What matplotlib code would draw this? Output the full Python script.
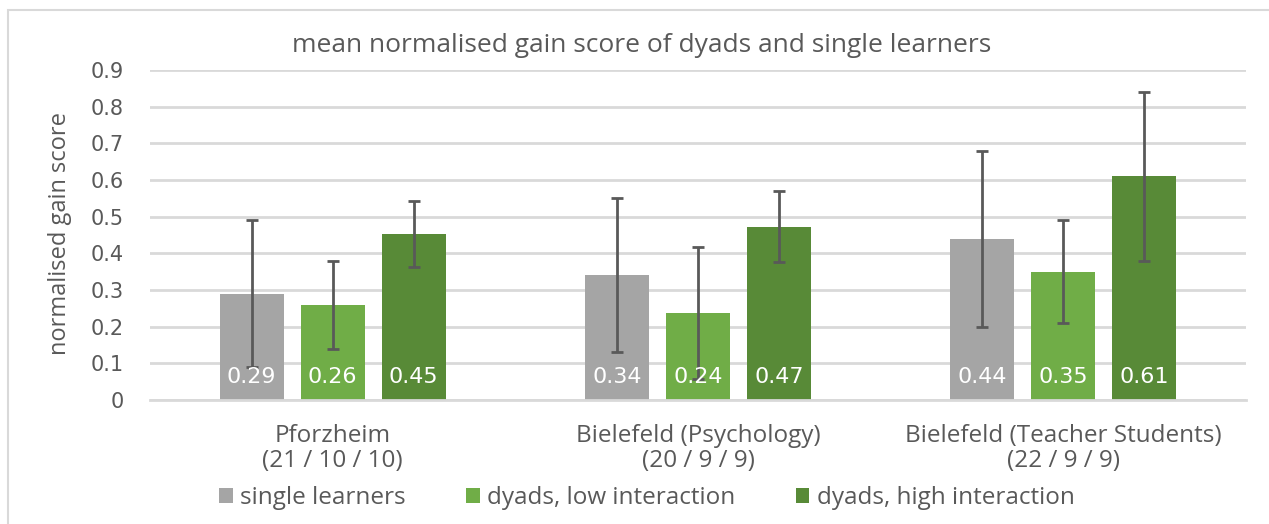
import matplotlib
matplotlib.use("Agg")
import matplotlib.pyplot as plt
from matplotlib.patches import Rectangle
import numpy as np

categories = ["Pforzheim\n(21 / 10 / 10)", "Bielefeld (Psychology)\n(20 / 9 / 9)",
              "Bielefeld (Teacher Students)\n(22 / 9 / 9)"]
series_names = ["single learners", "dyads, low interaction", "dyads, high interaction"]
single = [0.29, 0.34, 0.44]
dyads_low = [0.26, 0.236, 0.35]
dyads_high = [0.453, 0.473, 0.61]
err_single = [0.2, 0.21, 0.24]
err_low = [0.12, 0.18, 0.14]
err_high = [0.09, 0.097, 0.23]
yticks = [0, 0.1, 0.2, 0.3, 0.4, 0.5, 0.6, 0.7, 0.8, 0.9]
ytick_labels = ["0", "0.1", "0.2", "0.3", "0.4", "0.5", "0.6", "0.7", "0.8", "0.9"]

colors = ["#A5A5A5", "#70AD47", "#588A37"]
font = "Open Sans"
numfont = "DejaVu Sans"
txt = "#595959"

fig = plt.figure(figsize=(12.69, 5.24), dpi=100)
ax = fig.add_axes([150/1269, 1-400/524, (1246-150)/1269, (400-70)/524])

x = np.arange(len(categories))
width = 0.175
offsets = [-0.222, 0.0, 0.222]
vals = [single, dyads_low, dyads_high]
errs = [err_single, err_low, err_high]

for i in range(3):
    ax.bar(x + offsets[i], vals[i], width, color=colors[i], label=series_names[i], zorder=2)
    ax.errorbar(x + offsets[i], vals[i], yerr=errs[i], fmt="none", ecolor="#595959",
                elinewidth=2, capsize=4, capthick=2, zorder=3)
    for xi, v in zip(x + offsets[i], vals[i]):
        ax.annotate(f"{v:.2f}", xy=(xi, 0), xytext=(0, 12), textcoords="offset points",
                    ha="center", va="baseline", color="white",
                    fontsize=16, family=numfont, zorder=4)

ax.set_xlim(-0.5, 2.5)
ax.set_ylim(0, 0.9)
ax.set_yticks(yticks)
ax.set_yticklabels(ytick_labels, family=numfont, fontsize=15, color=txt)
ax.set_xticks(x)
ax.set_xticklabels(categories, family=font, fontsize=17.5, color=txt, linespacing=1.1)
ax.tick_params(axis="x", length=0, pad=17)
ax.tick_params(axis="y", length=0, pad=19)
ax.grid(axis="y", color="#D9D9D9", linewidth=2, zorder=0)
ax.set_axisbelow(True)
for s in ["top", "right", "left"]:
    ax.spines[s].set_visible(False)
ax.spines["bottom"].set_color("#D9D9D9")
ax.spines["bottom"].set_linewidth(2)

ax.set_ylabel("normalised gain score", family=font, fontsize=17, color=txt)
ax.yaxis.set_label_coords(-0.071, 0.505)

fig.text(642/1269, 1-45/524, "mean normalised gain score of dyads and single learners",
         ha="center", va="center", fontsize=19, family=font, color=txt)

leg = fig.legend(loc="center", bbox_to_anchor=(647/1269, 1-498/524), ncol=3,
                 frameon=False, handlelength=0.55, handleheight=0.55, handletextpad=0.3,
                 columnspacing=2.5, prop={"family": font, "size": 17.5})
for t in leg.get_texts():
    t.set_color(txt)

fig.patches.append(Rectangle((8/1269, -0.1), 1.2, 1-10/524+0.1, transform=fig.transFigure,
                             fill=False, edgecolor="#D9D9D9", linewidth=1.5))

fig.savefig("out.png", dpi=100)
